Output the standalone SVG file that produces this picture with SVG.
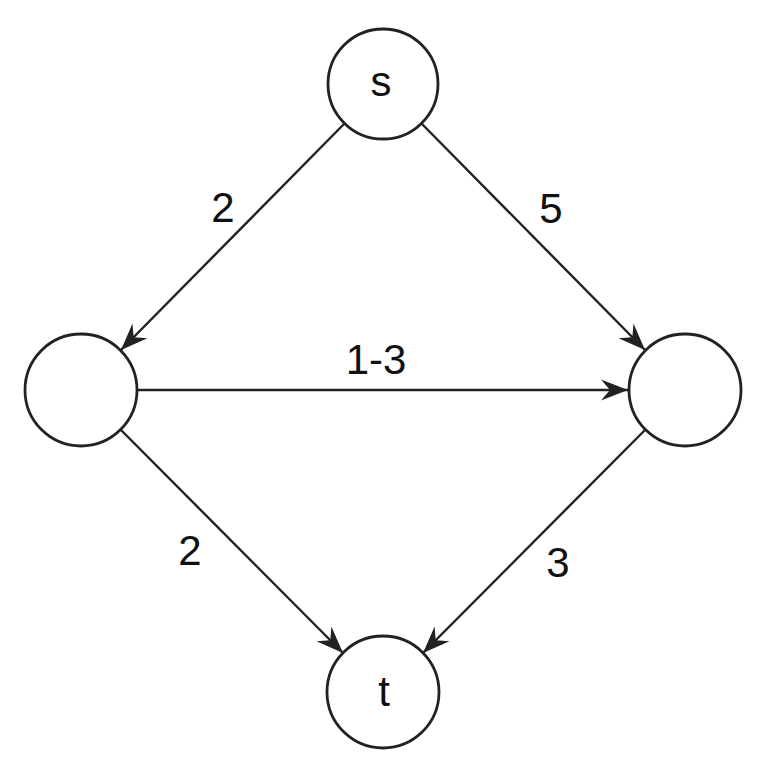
<svg xmlns="http://www.w3.org/2000/svg" width="783" height="770" viewBox="0 0 783 770">
<defs>
<marker id="arr" viewBox="-28 -12 30 24" refX="0" refY="0" markerWidth="30" markerHeight="24" markerUnits="userSpaceOnUse" orient="auto">
<path d="M0,0 L-27,-10.5 L-18,0 L-27,10.5 Z" fill="#222"/>
</marker>
<style>
.node{fill:#fff;stroke:#222;stroke-width:2.8}
.edge{stroke:#222;stroke-width:2.4;fill:none;marker-end:url(#arr)}
.lbl{font-family:"Liberation Sans",Arial,sans-serif;font-size:42px;fill:#111;text-anchor:middle}
.nl{font-family:"Liberation Sans",Arial,sans-serif;font-size:42px;fill:#111;text-anchor:middle}
</style>
</defs>
<rect width="783" height="770" fill="#fff"/>
<g id="connectors">
<line class="edge" x1="344" y1="124" x2="121" y2="350"/>
<line class="edge" x1="422" y1="124" x2="645" y2="350"/>
<line class="edge" x1="138" y1="390" x2="628" y2="390"/>
<line class="edge" x1="121" y1="430" x2="343" y2="653"/>
<line class="edge" x1="645" y1="430" x2="423" y2="653"/>
</g>
<g id="labels">
<text class="lbl" x="223" y="222">2</text>
<text class="lbl" x="551" y="223">5</text>
<text class="lbl" x="376" y="374" font-size="39">1-3</text>
<text class="lbl" x="190" y="565">2</text>
<text class="lbl" x="558" y="577">3</text>
</g>
<g id="node-s"><circle class="node" cx="383" cy="84" r="55"/><text class="nl" x="381" y="96">s</text></g>
<g id="node-a"><circle class="node" cx="81" cy="390" r="56"/></g>
<g id="node-b"><circle class="node" cx="685" cy="390" r="56"/></g>
<g id="node-t"><circle class="node" cx="383" cy="692" r="56"/><text class="nl" x="384" y="706" font-size="44">t</text></g>
</svg>
